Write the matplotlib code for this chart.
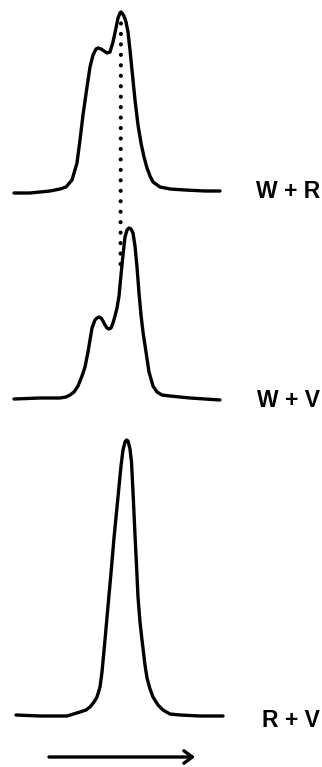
import matplotlib
matplotlib.use("Agg")
import matplotlib.pyplot as plt
import numpy as np

# ---- data (x = migration position, h = signal above each trace's baseline) ----
labels = ["W + R", "W + V", "R + V"]
baselines = [192, 398, 716]
label_baselines = [198, 407, 727]

x_wr = [14, 30, 50, 60, 66, 72, 77, 80, 83, 87, 90, 93, 96, 98, 101, 104, 107, 110,
        113, 116, 118, 120, 121, 122, 124, 126, 128, 130, 132, 135, 138, 141, 144,
        147, 150, 153, 160, 170, 185, 205, 220]
h_wr = [-1, -1, 1, 3, 5, 12, 29, 52, 77, 105, 125, 137, 143, 144, 143, 141, 139, 140,
        150, 164, 174, 179, 180, 179, 176, 170, 160, 142, 122, 92, 67, 49, 35,
        24, 16, 10, 5, 3, 2, 1, 1]

x_wv = [14, 40, 60, 66, 70, 74, 78, 82, 85, 88, 90, 92, 95, 97, 99, 101, 103, 105,
        107, 109, 111, 113, 115, 117, 119, 121, 123, 125, 127, 129, 131, 133, 135,
        137, 139, 141, 143, 146, 149, 153, 157, 162, 170, 190, 220]
h_wv = [-1, 0, 0, 1, 3, 6, 12, 22, 31, 46, 58, 70, 78, 80, 81, 80, 77, 73,
        70, 69, 70, 75, 82, 90, 102, 123, 143, 161, 168, 170, 169, 165, 152,
        131, 105, 83, 66, 46, 26, 12, 6, 3, 2, 0, -2]

x_rv = [16, 40, 67, 80, 86, 90, 94, 97, 100, 102, 105, 108, 111, 114, 118, 121, 123,
        125, 126.5, 128, 130, 131.5, 133, 135, 136.5, 138, 140, 142, 145, 147, 150,
        153, 158, 163, 170, 180, 200, 223]
h_rv = [1, 0, 0, 4, 6, 9, 14, 19, 29, 44, 76, 110, 143, 178, 219, 250, 266,
        274, 276, 275, 267, 254, 224, 181, 151, 119, 94, 76, 51, 38, 27,
        19, 11, 6, 2, 1, 0, 0]

dot_x = [121, 120.5]
dot_y = [13, 264]

arrow_x = [49, 195]
arrow_y = 757

# ---- figure ----
fig = plt.figure(figsize=(3.22, 7.67), dpi=100)
ax = fig.add_axes([0, 0, 1, 1])
ax.set_xlim(0, 322)
ax.set_ylim(767, 0)
ax.axis("off")

curves = [(x_wr, h_wr), (x_wv, h_wv), (x_rv, h_rv)]
for (xs, hs), base, lbase, lab in zip(curves, baselines, label_baselines, labels):
    ys = base - np.asarray(hs, dtype=float)
    ax.plot(xs, ys, color="black", lw=2.4, solid_joinstyle="round",
            solid_capstyle="round")
    ax.text(320, lbase, lab, ha="right", va="baseline", fontsize=16.5,
            fontweight="bold", family="Liberation Sans", color="black")

# dotted connector between peaks
ax.plot(dot_x, dot_y, color="black", lw=3.0, linestyle=(0, (0.01, 2.5)),
        dash_capstyle="round")

# direction arrow
ax.annotate("", xy=(arrow_x[1], arrow_y), xytext=(arrow_x[0], arrow_y),
            arrowprops=dict(arrowstyle="->,head_length=0.6,head_width=0.45",
                            lw=2.4, color="black", shrinkA=0, shrinkB=0))

fig.savefig("out.png", dpi=100, facecolor="white")
